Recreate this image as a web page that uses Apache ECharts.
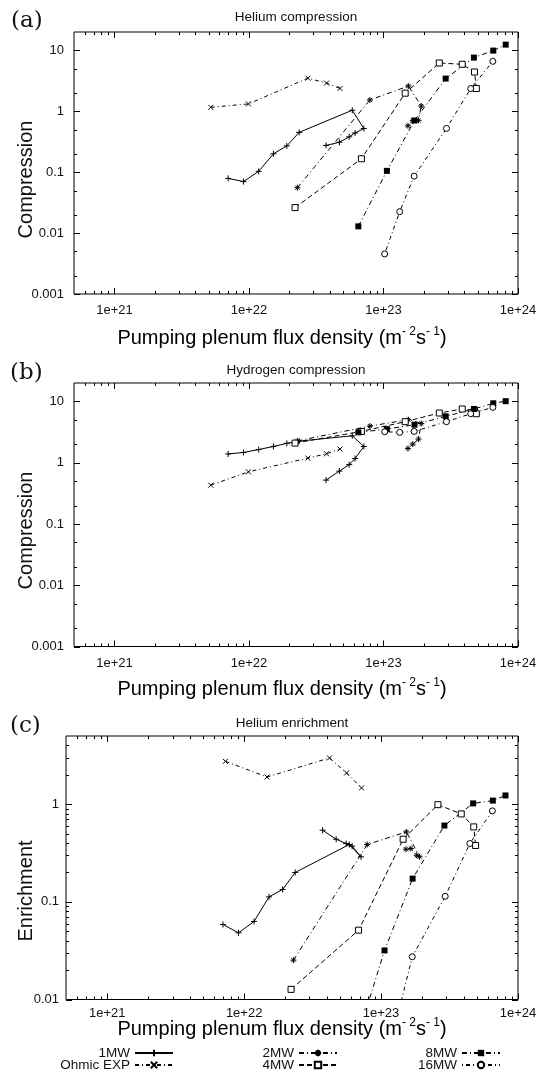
<!DOCTYPE html>
<html><head><meta charset="utf-8">
<script src="https://cdn.jsdelivr.net/npm/echarts@6/dist/echarts.min.js"></script>
<style>html,body{margin:0;padding:0;background:#fff}#c{width:549px;height:1072px}</style>
</head><body><div id="c"></div><script>
// ---------------- DATA ----------------
const SERIES_NAMES = ['1MW', 'Ohmic EXP', '2MW', '4MW', '8MW', '16MW'];

// Pumping plenum flux density (m^-2 s^-1)
const flux_1MW      = [7.0e21, 9.1e21, 1.18e22, 1.52e22, 1.91e22, 2.36e22, 5.86e22, 7.14e22, 6.15e22, 5.56e22, 4.70e22, 3.74e22];
const flux_OhmicAB  = [5.2e21, 9.9e21, 2.74e22, 3.77e22, 4.75e22];
const flux_OhmicC   = [7.3e21, 1.47e22, 4.2e22, 5.6e22, 7.2e22];
const flux_2MW      = [2.29e22, 7.92e22, 1.53e23, 1.91e23, 1.82e23, 1.65e23, 1.52e23];
const flux_4MW      = [2.2e22, 6.85e22, 1.45e23, 2.6e23, 3.85e23, 4.75e23, 4.9e23];
const flux_8MW      = [6.5e22, 1.06e23, 1.7e23, 2.9e23, 4.7e23, 6.55e23, 8.1e23];
const flux_16MW     = [1.02e23, 1.32e23, 1.69e23, 2.94e23, 4.45e23, 6.5e23];

// (a) Helium compression
const heComp_1MW   = [0.079, 0.070, 0.103, 0.20, 0.27, 0.45, 1.04, 0.52, 0.44, 0.38, 0.31, 0.275];
const heComp_Ohmic = [1.16, 1.32, 3.49, 2.90, 2.37];
const heComp_2MW   = [0.0556, 1.53, 2.59, 1.22, 0.71, 0.70, 0.577];
const heComp_4MW   = [0.0262, 0.166, 1.98, 6.2, 5.9, 4.41, 2.36];
const heComp_8MW   = [0.0129, 0.105, 0.705, 3.44, 7.6, 9.9, 12.4];
const heComp_16MW  = [0.00455, 0.0225, 0.086, 0.523, 2.36, 6.6];

// (b) Hydrogen compression
const hComp_1MW    = [1.39, 1.47, 1.64, 1.84, 2.07, 2.25, 2.75, 1.84, 1.17, 0.93, 0.73, 0.52];
const hComp_Ohmic  = [0.43, 0.71, 1.19, 1.40, 1.67];
const hComp_2MW    = [2.27, 3.96, 5.04, 4.38, 2.43, 2.01, 1.71];
const hComp_4MW    = [2.09, 3.24, 4.67, 6.47, 7.53, 7.2, 6.3];
const hComp_8MW    = [3.13, 3.54, 4.17, 5.71, 7.53, 9.33, 10.1];
const hComp_16MW   = [3.2, 3.13, 3.24, 4.67, 6.3, 8.0];

// (c) Helium enrichment
const heEnr_1MW    = [0.0587, 0.0482, 0.063, 0.1125, 0.134, 0.200, 0.387, 0.289, 0.372, 0.396, 0.438, 0.542];
const heEnr_Ohmic  = [2.75, 1.90, 2.98, 2.09, 1.47];
const heEnr_2MW    = [0.0253, 0.387, 0.521, 0.29, 0.30, 0.352, 0.346];
const heEnr_4MW    = [0.0127, 0.0513, 0.438, 0.99, 0.796, 0.586, 0.378];
const heEnr_8MW    = [0.0035, 0.0318, 0.173, 0.605, 1.02, 1.09, 1.23];
const heEnr_16MW   = [0.0015, 0.0068, 0.0274, 0.114, 0.396, 0.855];

// axis ticks
const X_MAJOR = [1e21, 1e22, 1e23, 1e24];
const Y_MAJOR_AB = [0.001, 0.01, 0.1, 1, 10];
const Y_MAJOR_C = [0.01, 0.1, 1];
const Y_MINOR_MULT_AB = [2, 5];
const Y_MINOR_MULT_C = [2, 3, 4, 5, 6, 7, 8, 9];
const X_MINOR_MULT = [2, 3, 4, 5, 6, 7, 8, 9];

// ---------------- STYLE ----------------
const SANS = 'Liberation Sans';
const INK = '#111';
const PLUS = 'path://M5,0V10M0,5H10';
const CROSS = 'path://M0,0L10,10M10,0L0,10';
const STAR = 'path://M5,0V10M0,5H10M1.6,1.6L8.4,8.4M8.4,1.6L1.6,8.4';
const STYLE = {
  '1MW':       {symbol: PLUS,  size: 6, dash: 'solid',   fill: '#000', bw: 1},
  'Ohmic EXP': {symbol: CROSS, size: 5, dash: [4,3,1,3], fill: '#000', bw: 1},
  '2MW':       {symbol: STAR,  size: 6, dash: [5,3,1,3], fill: '#000', bw: 1},
  '4MW':       {symbol: 'rect',size: 6, dash: [5,3],     fill: '#fff', bw: 1},
  '8MW':       {symbol: 'rect',size: 6, dash: [5,3,1,3], fill: '#000', bw: 0},
  '16MW':      {symbol: 'circle', size: 6, dash: [1,3,4,3], fill: '#fff', bw: 1}
};

const PANELS = [
  {grid: {left: 74, top: 32, width: 444, height: 262}, ymin: 0.001, ymax: 20, yMajor: Y_MAJOR_AB, yMinorMult: Y_MINOR_MULT_AB, yMargin: 10, xMargin: 10,
   xs: [flux_1MW, flux_OhmicAB, flux_2MW, flux_4MW, flux_8MW, flux_16MW],
   ys: [heComp_1MW, heComp_Ohmic, heComp_2MW, heComp_4MW, heComp_8MW, heComp_16MW]},
  {grid: {left: 74, top: 383, width: 444, height: 263.5}, ymin: 0.001, ymax: 20, yMajor: Y_MAJOR_AB, yMinorMult: Y_MINOR_MULT_AB, yMargin: 10, xMargin: 10,
   xs: [flux_1MW, flux_OhmicAB, flux_2MW, flux_4MW, flux_8MW, flux_16MW],
   ys: [hComp_1MW, hComp_Ohmic, hComp_2MW, hComp_4MW, hComp_8MW, hComp_16MW]},
  {grid: {left: 66, top: 736, width: 452, height: 263.5}, ymin: 0.01, ymax: 5, yMajor: Y_MAJOR_C, yMinorMult: Y_MINOR_MULT_C, yMargin: 7, xMargin: 7,
   xs: [flux_1MW, flux_OhmicC, flux_2MW, flux_4MW, flux_8MW, flux_16MW],
   ys: [heEnr_1MW, heEnr_Ohmic, heEnr_2MW, heEnr_4MW, heEnr_8MW, heEnr_16MW]}
];
const XMIN = 5e20, XMAX = 1e24;

function isPow10(v) { const l = Math.log10(v); return Math.abs(l - Math.round(l)) < 1e-6; }

function minorTicks(mults, lo, hi) {
  const out = [];
  for (let e = Math.floor(Math.log10(lo)) - 1; e <= Math.ceil(Math.log10(hi)); e++) {
    mults.forEach(m => { const v = m * Math.pow(10, e); if (v > lo * 1.0001 && v < hi * 0.9999) out.push(v); });
  }
  return out;
}

function renderTick(params, api) {
  const cs = params.coordSys;
  const kind = api.value(2), len = api.value(3);
  const st = {stroke: '#000', lineWidth: 1};
  const p = api.coord([api.value(0), api.value(1)]);
  if (kind === 0) {
    const px = Math.round(p[0]) + 0.5;
    const yb = cs.y + cs.height, yt = cs.y;
    return {type: 'group', children: [
      {type: 'line', shape: {x1: px, y1: yb, x2: px, y2: yb - len}, style: st},
      {type: 'line', shape: {x1: px, y1: yt, x2: px, y2: yt + len}, style: st}]};
  }
  const py = Math.round(p[1]) + 0.5;
  const xl = cs.x, xr = cs.x + cs.width;
  return {type: 'group', children: [
    {type: 'line', shape: {x1: xl, y1: py, x2: xl + len, y2: py}, style: st},
    {type: 'line', shape: {x1: xr, y1: py, x2: xr - len, y2: py}, style: st}]};
}

const grid = [], xAxis = [], yAxis = [], series = [];
PANELS.forEach((P, i) => {
  grid.push(Object.assign({show: true, borderColor: '#000', borderWidth: 1, backgroundColor: 'transparent'}, P.grid));
  xAxis.push({type: 'log', logBase: 10, gridIndex: i, min: XMIN, max: XMAX,
    axisLine: {show: false}, axisTick: {show: false}, splitLine: {show: false}, minorTick: {show: false},
    axisLabel: {interval: 0, margin: P.xMargin, fontSize: 13, color: INK, fontFamily: SANS,
      formatter: v => isPow10(v) ? '1e+' + Math.round(Math.log10(v)) : ''}});
  yAxis.push({type: 'log', logBase: 10, gridIndex: i, min: P.ymin, max: P.ymax,
    axisLine: {show: false}, axisTick: {show: false}, splitLine: {show: false}, minorTick: {show: false},
    axisLabel: {interval: 0, margin: P.yMargin, fontSize: 13, color: INK, fontFamily: SANS,
      formatter: v => isPow10(v) ? String(Number(v.toPrecision(3))) : ''}});
  // ticks (mirrored on all four borders)
  const td = [];
  X_MAJOR.forEach(v => td.push([v, 1, 0, 6]));
  minorTicks(X_MINOR_MULT, XMIN, XMAX).forEach(v => td.push([v, 1, 0, 3]));
  P.yMajor.forEach(v => td.push([1e22, v, 1, 6]));
  minorTicks(P.yMinorMult, P.ymin, P.ymax).forEach(v => td.push([1e22, v, 1, 3]));
  series.push({type: 'custom', xAxisIndex: i, yAxisIndex: i, silent: true, z: 1,
    renderItem: renderTick, encode: {x: 0, y: 1}, data: td});
  SERIES_NAMES.forEach((name, k) => {
    const S = STYLE[name];
    const xs = P.xs[k], ys = P.ys[k];
    series.push({type: 'line', name: name, xAxisIndex: i, yAxisIndex: i, z: 3,
      data: xs.map((x, j) => [x, ys[j]]),
      symbol: S.symbol, symbolSize: S.size, showSymbol: true, clip: true,
      lineStyle: {color: '#000', width: 1, type: S.dash},
      itemStyle: {color: S.fill, borderColor: '#000', borderWidth: S.bw},
      emphasis: {disabled: true}});
  });
});

const LEGEND_POS = [
  ['1MW', 375, 1046], ['2MW', 211, 1046], ['8MW', 48, 1046],
  ['Ohmic EXP', 375, 1058], ['4MW', 211, 1058], ['16MW', 48, 1058]
];
const legend = LEGEND_POS.map(([n, r, t]) => ({
  data: [n], right: r, top: t, align: 'right', orient: 'horizontal', padding: 0,
  itemWidth: 38, itemHeight: 8, selectedMode: false,
  textStyle: {fontSize: 13.5, color: INK, fontFamily: SANS}
}));

const SERIF = '23px "DejaVu Serif"';
const TITLE = '13.5px "Liberation Sans"';
const NAME = '20px "Liberation Sans"';
function txt(text, x, y, font, align) {
  const a = align || 'center';
  return {type: 'text', x: x, y: y, silent: true,
    style: {text: text, font: font, fill: INK, align: a, verticalAlign: 'middle',
      textAlign: a, textVerticalAlign: 'middle'}};
}
function xName(y) {
  return {type: 'text', x: 282, y: y, silent: true, style: {
    text: '{m|Pumping plenum flux density (m}{s|- 2}{m|s}{s|- 1}{m|)}',
    align: 'center', verticalAlign: 'middle', textAlign: 'center', textVerticalAlign: 'middle',
    rich: {m: {fontSize: 20, fontFamily: SANS, color: INK, lineHeight: 24},
           s: {fontSize: 12, fontFamily: SANS, color: INK, verticalAlign: 'top'}}}};
}
function yName(t, y) {
  return {type: 'text', x: 26, y: y, rotation: Math.PI / 2, silent: true,
    style: {text: t, font: NAME, fill: INK, align: 'center', verticalAlign: 'middle', textAlign: 'center', textVerticalAlign: 'middle'}};
}
const graphic = [
  txt('(a)', 11, 21.5, SERIF, 'left'),
  txt('(b)', 10, 373, SERIF, 'left'),
  txt('(c)', 10, 726, SERIF, 'left'),
  txt('Helium compression', 296, 17.5, TITLE),
  txt('Hydrogen compression', 296, 370.5, TITLE),
  txt('Helium enrichment', 292, 723, TITLE),
  yName('Compression', 179.5), yName('Compression', 530.5), yName('Enrichment', 891),
  xName(338), xName(689), xName(1029)
];

const chart = echarts.init(document.getElementById('c'), null, {renderer: 'canvas'});
chart.setOption({animation: false, backgroundColor: '#fff', grid, xAxis, yAxis, series, legend, graphic, tooltip: {show: false}});
</script></body></html>
